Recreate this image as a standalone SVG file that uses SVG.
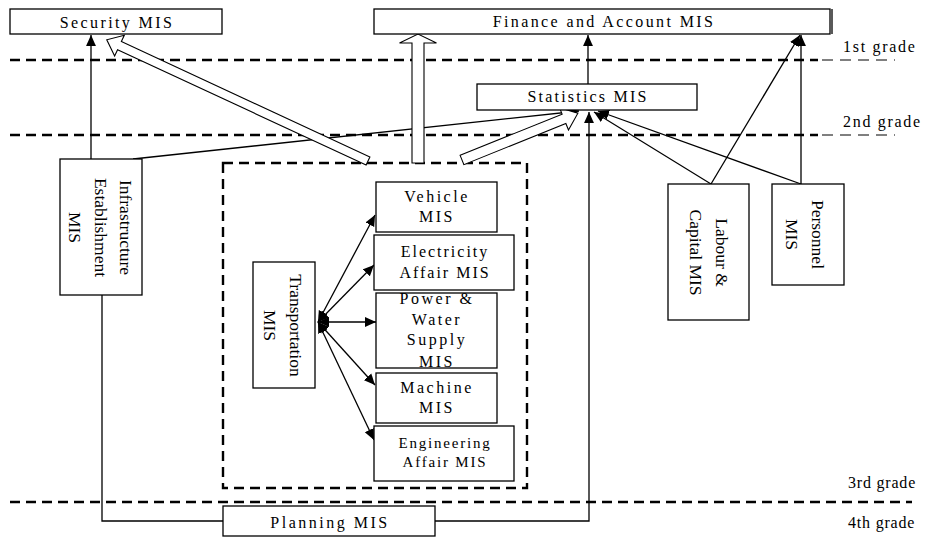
<svg xmlns="http://www.w3.org/2000/svg" width="928" height="542" viewBox="0 0 928 542">
<style>
.box{fill:#fff;stroke:#000;stroke-width:1.3}
.t{font-family:"Liberation Serif","Times New Roman",serif;font-size:16px;letter-spacing:2.4px;fill:#000;text-anchor:middle}
.s{font-family:"Liberation Serif","Times New Roman",serif;font-size:16px;letter-spacing:2px;fill:#000;text-anchor:middle}
.e{font-family:"Liberation Serif","Times New Roman",serif;font-size:15px;letter-spacing:1.8px;fill:#000;text-anchor:middle}
.r{font-family:"Liberation Serif","Times New Roman",serif;font-size:17.5px;fill:#000;text-anchor:middle}
.g{font-family:"Liberation Serif","Times New Roman",serif;font-size:16px;letter-spacing:1.7px;fill:#000}
.g2{font-family:"Liberation Serif","Times New Roman",serif;font-size:16px;letter-spacing:0.8px;fill:#000}
.dash{stroke:#000;stroke-width:2.4;stroke-dasharray:10 6;fill:none}
.thin{stroke:#000;stroke-width:1;stroke-dasharray:11 7;fill:none}
.ln{stroke:#000;stroke-width:1.3;fill:none}
.ar{stroke:#000;stroke-width:1.3;fill:none;marker-end:url(#ah)}
.ar2{stroke:#000;stroke-width:1.3;fill:none;marker-end:url(#ah);marker-start:url(#ah)}
.hol{fill:#fff;stroke:#000;stroke-width:1.1}
</style>
<defs>
<marker id="ah" viewBox="0 0 10 10" refX="10" refY="5" markerWidth="11" markerHeight="11" markerUnits="userSpaceOnUse" orient="auto-start-reverse">
<path d="M0,0.5 L10,5 L0,9.5 z" fill="#000"/>
</marker>
</defs>

<g id="grades">
<line class="dash" x1="10" y1="60" x2="818" y2="60"/>
<line class="thin" x1="822" y1="60" x2="895" y2="60"/>
<line class="dash" x1="10" y1="135" x2="818" y2="135"/>
<line class="thin" x1="822" y1="135" x2="895" y2="135"/>
<line class="dash" x1="10" y1="502" x2="912" y2="502"/>
<text class="g" x="843" y="52">1st grade</text>
<text class="g" x="843" y="127">2nd grade</text>
<text class="g2" x="848" y="488">3rd grade</text>
<text class="g2" x="848" y="528">4th grade</text>
</g>

<g id="container">
<rect x="223" y="163" width="304" height="325" fill="none" class="dash"/>
</g>

<g id="connectors">
<line class="ar" x1="91" y1="159" x2="91" y2="35"/>
<polyline class="ln" points="102,295 102,521 223,521"/>
<polyline class="ar" points="435,521 589,521 589,112"/>
<line class="ar" x1="133" y1="159" x2="579" y2="111"/>
<line class="ar" x1="711" y1="184" x2="594" y2="112"/>
<line class="ar" x1="801" y1="184" x2="598" y2="111"/>
<line class="ar" x1="588" y1="84" x2="588" y2="35"/>
<line class="ar" x1="711" y1="184" x2="800" y2="35"/>
<line class="ar" x1="801" y1="184" x2="801" y2="35"/>
<line class="ar2" x1="318" y1="322" x2="375" y2="215"/>
<line class="ar2" x1="318" y1="322" x2="374" y2="265"/>
<line class="ar2" x1="318" y1="322" x2="376" y2="322"/>
<line class="ar2" x1="318" y1="322" x2="375" y2="385"/>
<line class="ar2" x1="318" y1="322" x2="374" y2="440"/>
<polygon class="hol" transform="translate(368,161) rotate(-155.1)" points="0,-4.5 274,-4.5 274,-11.5 288,0 274,11.5 274,4.5 0,4.5"/>
<polygon class="hol" transform="translate(462,160) rotate(-22)" points="0,-5 110,-5 110,-12 125,0 110,12 110,5 0,5"/>
<polygon class="hol" transform="translate(418,163) rotate(-90)" points="0,-6 120,-6 120,-18.5 129,0 120,18.5 120,6 0,6"/>
</g>

<g id="security">
<rect class="box" x="10" y="9" width="212" height="25"/>
<text class="t" x="117" y="28">Security MIS</text>
</g>

<g id="finance">
<rect class="box" x="374" y="9" width="456" height="25"/>
<line class="ln" x1="832" y1="9" x2="832" y2="34"/>
<text class="t" x="604" y="27">Finance and Account MIS</text>
</g>

<g id="statistics">
<rect class="box" x="477" y="84" width="220" height="26"/>
<text class="t" x="588" y="102" style="letter-spacing:2.2px">Statistics MIS</text>
</g>

<g id="infrastructure">
<rect class="box" x="60" y="159" width="82" height="136"/>
<text class="r" transform="translate(120,227.5) rotate(90)">Infrastructure</text>
<text class="r" transform="translate(94.5,227.5) rotate(90)">Establishment</text>
<text class="r" transform="translate(69,227.5) rotate(90)">MIS</text>
</g>

<g id="transportation">
<rect class="box" x="253" y="262" width="62" height="126"/>
<text class="r" transform="translate(290,325.5) rotate(90)">Transportation</text>
<text class="r" transform="translate(264,325.5) rotate(90)">MIS</text>
</g>

<g id="vehicle">
<rect class="box" x="376" y="182" width="121" height="50"/>
<text class="s" x="437" y="202" style="letter-spacing:2.5px">Vehicle</text>
<text class="s" x="437" y="222" style="letter-spacing:2.5px">MIS</text>
</g>

<g id="electricity">
<rect class="box" x="374" y="235" width="140" height="55"/>
<text class="s" x="445" y="257">Electricity</text>
<text class="s" x="445" y="278">Affair MIS</text>
</g>

<g id="power">
<rect class="box" x="376" y="293" width="121" height="75"/>
<text class="s" x="437" y="304" style="letter-spacing:2.5px">Power &amp;</text>
<text class="s" x="437" y="325" style="letter-spacing:2.5px">Water</text>
<text class="s" x="437" y="345" style="letter-spacing:2.5px">Supply</text>
<text class="s" x="437" y="367" style="letter-spacing:2.5px">MIS</text>
</g>

<g id="machine">
<rect class="box" x="376" y="373" width="121" height="50"/>
<text class="s" x="437" y="393" style="letter-spacing:2.5px">Machine</text>
<text class="s" x="437" y="413" style="letter-spacing:2.5px">MIS</text>
</g>

<g id="engineering">
<rect class="box" x="374" y="426" width="140" height="55"/>
<text class="e" x="445" y="448">Engineering</text>
<text class="e" x="445" y="467">Affair MIS</text>
</g>

<g id="labour">
<rect class="box" x="668" y="184" width="81" height="136"/>
<text class="r" transform="translate(716,252.5) rotate(90)">Labour &amp;</text>
<text class="r" transform="translate(690,252.5) rotate(90)">Capital MIS</text>
</g>

<g id="personnel">
<rect class="box" x="772" y="184" width="72" height="101"/>
<text class="r" transform="translate(812,234.5) rotate(90)">Personnel</text>
<text class="r" transform="translate(786,234.5) rotate(90)">MIS</text>
</g>

<g id="planning">
<rect class="box" x="223" y="506" width="212" height="30"/>
<text class="t" x="330" y="528" style="letter-spacing:2.5px">Planning MIS</text>
</g>
</svg>
